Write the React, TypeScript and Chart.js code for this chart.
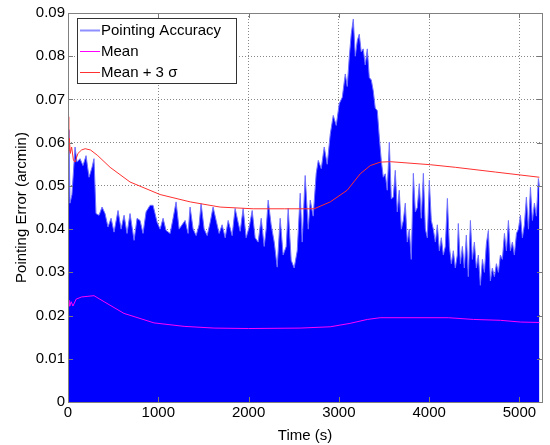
import React, { useEffect, useRef } from 'react';
import { Chart, registerables } from 'chart.js';
Chart.register(...registerables);

const FONT = '"Liberation Sans", Arial, Helvetica, sans-serif';

const xTicks = [0, 1000, 2000, 3000, 4000, 5000];
const yTicks = [0, 0.01, 0.02, 0.03, 0.04, 0.05, 0.06, 0.07, 0.08, 0.09];
const yTickLabels = ['0', '0.01', '0.02', '0.03', '0.04', '0.05', '0.06', '0.07', '0.08', '0.09'];

// Upper envelope of the pointing accuracy signal (time s, arcmin)
const accTime = [
  0, 11, 22, 44, 78, 100, 133, 166, 200, 233, 266, 288, 310, 344, 377, 410, 443, 477, 510, 554, 588, 621, 654, 687, 732, 765, 798, 831, 865, 909,
  942, 964, 987, 1020, 1053, 1086, 1131, 1164, 1197, 1231, 1264, 1297, 1330, 1352, 1386, 1419, 1452, 1474, 1508, 1541, 1574, 1607, 1641, 1674, 1707, 1741, 1774, 1818, 1851, 1885,
  1907, 1940, 1973, 2007, 2040, 2073, 2106, 2140, 2173, 2195, 2217, 2250, 2284, 2317, 2350, 2383, 2417, 2439, 2472, 2505, 2539, 2572, 2594, 2627, 2661, 2683, 2716, 2749, 2772, 2805, 2838,
  2871, 2905, 2938, 2971, 3004, 3038, 3071, 3093, 3115, 3137, 3160, 3182, 3204, 3226, 3248, 3270, 3292, 3315, 3337, 3359, 3381, 3403, 3426, 3448,
  3470, 3492, 3514, 3536, 3559, 3581, 3603, 3625, 3647, 3669, 3692, 3714, 3736, 3758, 3780, 3802, 3825, 3847, 3869, 3891, 3913, 3936, 3958, 3980, 4002, 4024, 4046, 4069, 4091, 4113, 4135, 4157, 4179, 4202, 4224, 4246, 4268, 4290, 4312,
  4323, 4346, 4368, 4390, 4412, 4434, 4457, 4479, 4501, 4523, 4545, 4567, 4590, 4612, 4634, 4656, 4678, 4700, 4723, 4745, 4767, 4789, 4811, 4834, 4856, 4878, 4900, 4922, 4944, 4967, 4989, 5011, 5033, 5055, 5077, 5100, 5122, 5144, 5166, 5188, 5210, 5221,
];
const accValue = [
  0.058, 0.063, 0.046, 0.048, 0.059, 0.0555, 0.0563, 0.0547, 0.057, 0.052, 0.0543, 0.0563, 0.0436, 0.0432, 0.0451, 0.0436, 0.0405, 0.0425, 0.0393, 0.0443, 0.04, 0.0432, 0.039, 0.0436, 0.0374, 0.0425, 0.042, 0.039, 0.044, 0.0455,
  0.0455, 0.0436, 0.0416, 0.04, 0.0425, 0.0397, 0.039, 0.0425, 0.0463, 0.04, 0.041, 0.042, 0.039, 0.0451, 0.04, 0.0385, 0.041, 0.0459, 0.04, 0.0385, 0.0415, 0.0451, 0.042, 0.039, 0.041, 0.038, 0.042, 0.0385, 0.0448, 0.0415,
  0.0395, 0.0448, 0.038, 0.0405, 0.0443, 0.038, 0.037, 0.0425, 0.036, 0.04, 0.0467, 0.041, 0.037, 0.0312, 0.0425, 0.034, 0.036, 0.0448, 0.0328, 0.031, 0.035, 0.0483, 0.037, 0.0524, 0.04, 0.0467, 0.043, 0.0529, 0.0559, 0.054, 0.059,
  0.055, 0.062, 0.0663, 0.064, 0.069, 0.0705, 0.0759, 0.073, 0.0797, 0.0851, 0.0886, 0.08, 0.0836, 0.0851, 0.081, 0.0817, 0.078, 0.0817, 0.0751, 0.0745, 0.072, 0.068, 0.0674, 0.0613,
  0.0559, 0.052, 0.0528, 0.049, 0.0601, 0.047, 0.0474, 0.0536, 0.044, 0.049, 0.04, 0.042, 0.046, 0.037, 0.04, 0.033, 0.0529, 0.044, 0.045, 0.0505, 0.0425, 0.0529, 0.04, 0.038, 0.0513, 0.042, 0.04, 0.037, 0.041, 0.035, 0.038, 0.034, 0.036, 0.0471, 0.036, 0.032, 0.035, 0.031, 0.034,
  0.0413, 0.032, 0.036, 0.031, 0.0386, 0.029, 0.042, 0.033, 0.037, 0.031, 0.034, 0.027, 0.033, 0.03, 0.0367, 0.0397, 0.028, 0.031, 0.029, 0.032, 0.03, 0.034, 0.033, 0.039, 0.035, 0.042, 0.035, 0.037, 0.034, 0.039, 0.04, 0.0432, 0.038, 0.041, 0.0474, 0.04, 0.0497, 0.042, 0.046, 0.043, 0.0517, 0.05,
];

const meanTime = [0, 10, 20, 35, 55, 90, 150, 288, 400, 620, 953, 1286, 1620, 2000, 2572, 2905, 3126, 3315, 3459, 4213, 4490, 4789, 5011, 5221];
const meanValue = [0.022, 0.0236, 0.0222, 0.0232, 0.0222, 0.0238, 0.0243, 0.0246, 0.0232, 0.0205, 0.0183, 0.0175, 0.0171, 0.017, 0.0171, 0.0174, 0.0182, 0.0191, 0.0195, 0.0195, 0.0191, 0.0189, 0.0185, 0.0184];

const sigTime = [0, 8, 15, 25, 40, 60, 78, 110, 150, 190, 250, 330, 466, 687, 1020, 1353, 1685, 2051, 2400, 2727, 2905, 3093, 3237, 3348, 3459, 3570, 4013, 4290, 4734, 5221];
const sigValue = [0.066, 0.058, 0.061, 0.0575, 0.059, 0.056, 0.0555, 0.0575, 0.0583, 0.0586, 0.0583, 0.057, 0.0543, 0.0509, 0.048, 0.0463, 0.0451, 0.0447, 0.0447, 0.0447, 0.0463, 0.049, 0.0528, 0.0547, 0.0555, 0.0556, 0.0549, 0.0543, 0.0532, 0.052];

const legendItems = [
  { label: 'Pointing Accuracy', color: '#8f8fff', width: 2 },
  { label: 'Mean', color: '#ff00ff', width: 1 },
  { label: 'Mean + 3 σ', color: '#ff3030', width: 1 },
];

const framePlugin = {
  id: 'frame',
  afterDatasetsDraw(chart: any) {
    const { ctx, chartArea: a, scales } = chart;
    ctx.save();
    ctx.setLineDash([]);
    ctx.strokeStyle = '#777';
    ctx.lineWidth = 1;
    ctx.beginPath();
    for (const v of xTicks) {
      const px = Math.round(scales.x.getPixelForValue(v)) + 0.5;
      ctx.moveTo(px, a.bottom); ctx.lineTo(px, a.bottom - 5);
      ctx.moveTo(px, a.top); ctx.lineTo(px, a.top + 5);
    }
    for (const v of yTicks) {
      const py = Math.round(scales.y.getPixelForValue(v)) + 0.5;
      ctx.moveTo(a.left, py); ctx.lineTo(a.left + 5, py);
      ctx.moveTo(a.right, py); ctx.lineTo(a.right - 5, py);
    }
    ctx.stroke();
    ctx.strokeStyle = '#808080';
    ctx.strokeRect(Math.round(a.left) + 0.5, Math.round(a.top) + 0.5, Math.round(a.right - a.left), Math.round(a.bottom - a.top));
    // legend
    const lx = 77, ly = 18, lw = 159, lh = 65;
    ctx.fillStyle = '#fff';
    ctx.fillRect(lx, ly, lw, lh);
    ctx.strokeStyle = '#333';
    ctx.strokeRect(lx + 0.5, ly + 0.5, lw, lh);
    ctx.font = '15px ' + FONT;
    ctx.textBaseline = 'middle';
    ctx.textAlign = 'left';
    legendItems.forEach((it, i) => {
      const y = ly + 12 + i * 21;
      ctx.strokeStyle = it.color;
      ctx.lineWidth = it.width;
      ctx.beginPath();
      ctx.moveTo(lx + 3, y + 0.5);
      ctx.lineTo(lx + 23, y + 0.5);
      ctx.stroke();
      ctx.fillStyle = '#000';
      ctx.fillText(it.label, lx + 24, y + 1);
    });
    ctx.restore();
  },
};

export default function App() {
  const ref = useRef<HTMLCanvasElement>(null);
  useEffect(() => {
    const chart = new Chart(ref.current!, {
      type: 'line',
      data: {
        datasets: [
          {
            label: 'Mean',
            data: meanTime.map((t, i) => ({ x: t, y: meanValue[i] })),
            borderColor: '#ff00ff',
            borderWidth: 1,
            pointRadius: 0,
            fill: false,
            order: 1,
          },
          {
            label: 'Mean + 3 σ',
            data: sigTime.map((t, i) => ({ x: t, y: sigValue[i] })),
            borderColor: '#ff3030',
            borderWidth: 1,
            pointRadius: 0,
            fill: false,
            order: 1,
          },
          {
            label: 'Pointing Accuracy',
            data: accTime.map((t, i) => ({ x: t, y: accValue[i] })),
            borderColor: '#7070ff',
            backgroundColor: '#0000ff',
            borderWidth: 1,
            pointRadius: 0,
            fill: 'origin',
            order: 3,
          },
        ],
      },
      options: {
        animation: false,
        responsive: false,
        layout: { padding: { top: 13, right: 8, left: 0, bottom: 0 } },
        plugins: { legend: { display: false }, tooltip: { enabled: false } },
        scales: {
          x: {
            type: 'linear',
            min: 0,
            max: 5250,
            afterBuildTicks: (s: any) => { s.ticks = xTicks.map((v) => ({ value: v })); },
            afterFit: (s: any) => { s.height = 43; },
            ticks: { font: { family: FONT, size: 15 }, color: '#000', padding: 2, maxRotation: 0, callback: (v: any) => String(v) },
            grid: { color: '#888', drawTicks: false, lineWidth: 1, borderDash: [1, 2] },
            border: { display: false, dash: [1, 2] },
            title: { display: true, text: 'Time (s)', font: { family: FONT, size: 15 }, color: '#000', padding: 0 },
          },
          y: {
            min: 0,
            max: 0.09,
            afterBuildTicks: (s: any) => { s.ticks = yTicks.map((v) => ({ value: v })); },
            afterFit: (s: any) => { s.width = 68; },
            ticks: { font: { family: FONT, size: 15 }, color: '#000', padding: 3, callback: (_v: any, i: number) => yTickLabels[i] },
            grid: { color: '#888', drawTicks: false, lineWidth: 1, borderDash: [1, 2] },
            border: { display: false, dash: [1, 2] },
            title: { display: true, text: 'Pointing Error (arcmin)', font: { family: FONT, size: 15 }, color: '#000', padding: 13 },
          },
        },
      },
      plugins: [framePlugin],
    } as any);
    return () => chart.destroy();
  }, []);
  return (
    <div style={{ position: 'fixed', left: 0, top: 0, width: 550, height: 445, background: '#fff' }}>
      <canvas ref={ref} width={550} height={445} style={{ width: 550, height: 445 }} />
    </div>
  );
}
